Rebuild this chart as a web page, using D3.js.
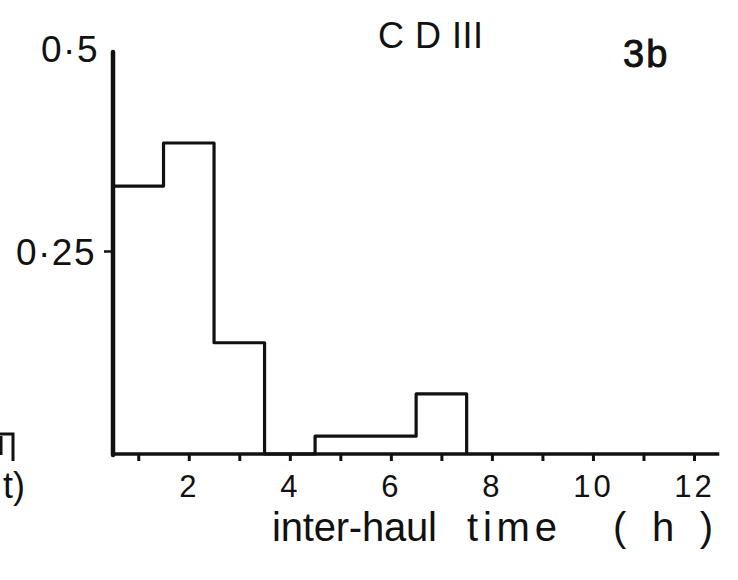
<!DOCTYPE html>
<html>
<head>
<meta charset="utf-8">
<script src="https://cdn.jsdelivr.net/npm/d3@7"></script>
<style>
  html, body { margin: 0; padding: 0; background: #fff; }
  svg { display: block; }
  text { font-family: "Liberation Sans", Arial, sans-serif; fill: #111; }
</style>
</head>
<body>
<svg id="chart" width="738" height="580"></svg>
<script>
// ---- data ----
const binCenters = [1, 2, 3, 4, 5, 6, 7];             // inter-haul time bins (h)
const frequencies = [0.330, 0.383, 0.137, 0, 0.022, 0.022, 0.074];
const xMinorTicks = [1, 2, 3, 4, 5, 6, 7, 8, 9, 10, 11, 12];
const xTickLabels = [2, 4, 6, 8, 10, 12];
const yTickValues = [0.25, 0.5];
const titleText = "C D III";
const panelText = "3b";
const xTitleWords = ["inter-haul", "time", "(h)"];

const svg = d3.select("#chart");
const ink = "#111";

const x = d3.scaleLinear().domain([0.5, 12]).range([113, 694]);
const y = d3.scaleLinear().domain([0, 0.5]).range([454, 48]);

// ---- histogram outline ----
const pts = [[0.5, 0]];
binCenters.forEach((c, i) => {
  pts.push([c - 0.5, frequencies[i]]);
  pts.push([c + 0.5, frequencies[i]]);
});
pts.push([binCenters[binCenters.length - 1] + 0.5, 0]);
const line = d3.line().x(d => x(d[0])).y(d => y(d[1]));
svg.append("path")
  .attr("d", line(pts))
  .attr("fill", "none")
  .attr("stroke", ink)
  .attr("stroke-width", 3.2)
  .attr("stroke-linejoin", "round");

// ---- x axis ----
svg.append("line")
  .attr("x1", x(0.5)).attr("x2", x(12.5))
  .attr("y1", y(0)).attr("y2", y(0))
  .attr("stroke", ink).attr("stroke-width", 3.4);

const xAxis = d3.axisBottom(x)
  .tickValues(xMinorTicks)
  .tickSize(7)
  .tickPadding(14)
  .tickFormat(d => xTickLabels.includes(d) ? String(d) : "");
const gx = svg.append("g").attr("transform", `translate(0,${y(0)})`).call(xAxis);
gx.select(".domain").remove();
gx.selectAll(".tick line").attr("stroke", ink).attr("stroke-width", 3);
gx.selectAll(".tick text")
  .attr("fill", ink)
  .style("font-size", "31px")
  .style("letter-spacing", "3px")
  .style("font-family", "'Liberation Sans', Arial, sans-serif");

// ---- y axis ----
svg.append("line")
  .attr("x1", x(0.5)).attr("x2", x(0.5))
  .attr("y1", y(0) + 1).attr("y2", y(0.5) + 4)
  .attr("stroke", ink).attr("stroke-width", 4.5)
  .attr("stroke-linecap", "round");

const yAxis = d3.axisLeft(y)
  .tickValues(yTickValues)
  .tickSize(9)
  .tickPadding(8)
  .tickFormat(d => String(d).replace(".", "\u00B7"));
const gy = svg.append("g").attr("transform", `translate(${x(0.5)},0)`).call(yAxis);
gy.select(".domain").remove();
gy.selectAll(".tick line")
  .attr("stroke", ink).attr("stroke-width", 2.5)
  .attr("opacity", d => d === 0.5 ? 0 : 1);
gy.selectAll(".tick text")
  .attr("fill", ink)
  .attr("dy", "0.36em")
  .attr("dx", d => d === 0.5 ? 3 : 0)
  .style("font-size", "37px")
  .style("letter-spacing", "1.5px")
  .style("font-family", "'Liberation Sans', Arial, sans-serif");

// ---- titles ----
svg.append("text")
  .attr("x", 378).attr("y", 48)
  .attr("textLength", 105).attr("lengthAdjust", "spacing")
  .style("font-size", "36px")
  .text(titleText);

svg.append("text")
  .attr("x", 623).attr("y", 67)
  .style("font-size", "38px")
  .style("stroke", ink).style("stroke-width", 0.9)
  .style("letter-spacing", "2px")
  .text(panelText);

const xt = svg.append("text")
  .attr("y", 541)
  .style("font-size", "40px");
const wordX = [272, 467, 613];
const wordW = [165, 90, 100];
xTitleWords.forEach((w, i) => {
  if (i > 0) xt.append("tspan").text(" ");
  xt.append("tspan")
    .attr("x", wordX[i])
    .attr("textLength", wordW[i])
    .attr("lengthAdjust", "spacing")
    .text(w);
});

// ---- clipped remnants of the neighbouring panel ----
svg.append("path")
  .attr("d", "M0,434 H13 V461 M1,436 V455")
  .attr("fill", "none").attr("stroke", ink).attr("stroke-width", 3);
svg.append("text")
  .attr("x", 3).attr("y", 498)
  .style("font-size", "36px")
  .text("t)");
</script>
</body>
</html>
